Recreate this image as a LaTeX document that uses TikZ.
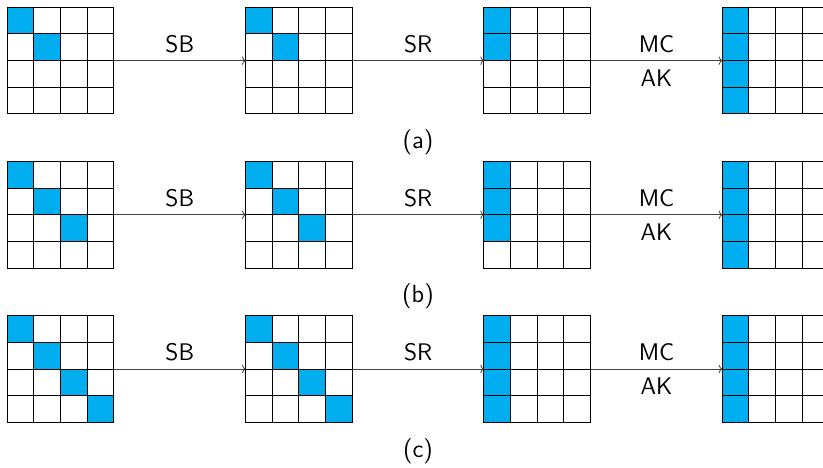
\documentclass[tikz,border=0pt]{standalone}
\usetikzlibrary{arrows.meta}
\definecolor{statecyan}{RGB}{0,174,239}
\tikzset{
  px/.style={x=0.5pt,y=-0.5pt},
  statebox/.style={draw=none,minimum width=53.34pt,minimum height=53.34pt,inner sep=0pt,outer sep=0pt,anchor=north west},
  cellfill/.style={fill=statecyan},
  gridline/.style={black,line width=0.5pt,line cap=rect},
  flow/.style={draw=black!75,line width=0.4pt,-{To[length=1.8pt,width=4.2pt]}},
  oplabel/.style={font=\sffamily\fontsize{12}{14}\selectfont,inner sep=0pt},
  caption/.style={font=\sffamily\fontsize{12.5}{14}\selectfont,inner sep=0pt}
}
\begin{document}
\begin{tikzpicture}[px]
  \useasboundingbox (0,0) rectangle (823,467);
  \def\cs{26.67}
  \foreach \r/\n/\cap in {0/2/a,1/3/b,2/4/c}{
    \pgfmathsetmacro{\ytop}{7.3+154.2*\r}
    % four 4x4 states per row
    \foreach \k in {0,1,2,3}{
      \pgfmathsetmacro{\xl}{7.3+238.33*\k}
      \node[statebox] (g\r\k) at (\xl,\ytop) {};
      \begin{scope}[shift={(g\r\k.north west)}]
        \ifnum\k<2
          % active bytes on the diagonal
          \foreach \i in {1,...,\n}{
            \fill[cellfill] ({(\i-1)*\cs},{(\i-1)*\cs}) rectangle ({\i*\cs},{\i*\cs});
          }
        \else
          \ifnum\k=2
            % active bytes gathered in the first column
            \fill[cellfill] (0,0) rectangle (\cs,{\n*\cs});
          \else
            \fill[cellfill] (0,0) rectangle (\cs,{4*\cs});
          \fi
        \fi
        \foreach \i in {0,...,4}{
          \draw[gridline] ({\i*\cs},0) -- ({\i*\cs},{4*\cs});
          \draw[gridline] (0,{\i*\cs}) -- ({4*\cs},{\i*\cs});
        }
      \end{scope}
    }
    % transitions between the states
    \draw[flow] (g\r0.east) -- (g\r1.west)
      node[oplabel,midway,yshift=8.35pt] (sb\r) {SB};
    \draw[flow] (g\r1.east) -- (g\r2.west)
      node[oplabel,midway,yshift=8.35pt] (sr\r) {SR};
    \draw[flow] (g\r2.east) -- (g\r3.west)
      node[oplabel,midway,yshift=8.35pt] (mc\r) {MC}
      node[oplabel,midway,yshift=-8.65pt] (ak\r) {AK};
    \node[caption] (cap\r) at (418,{142.5+154.2*\r}) {(\cap)};
  }
\end{tikzpicture}
\end{document}
